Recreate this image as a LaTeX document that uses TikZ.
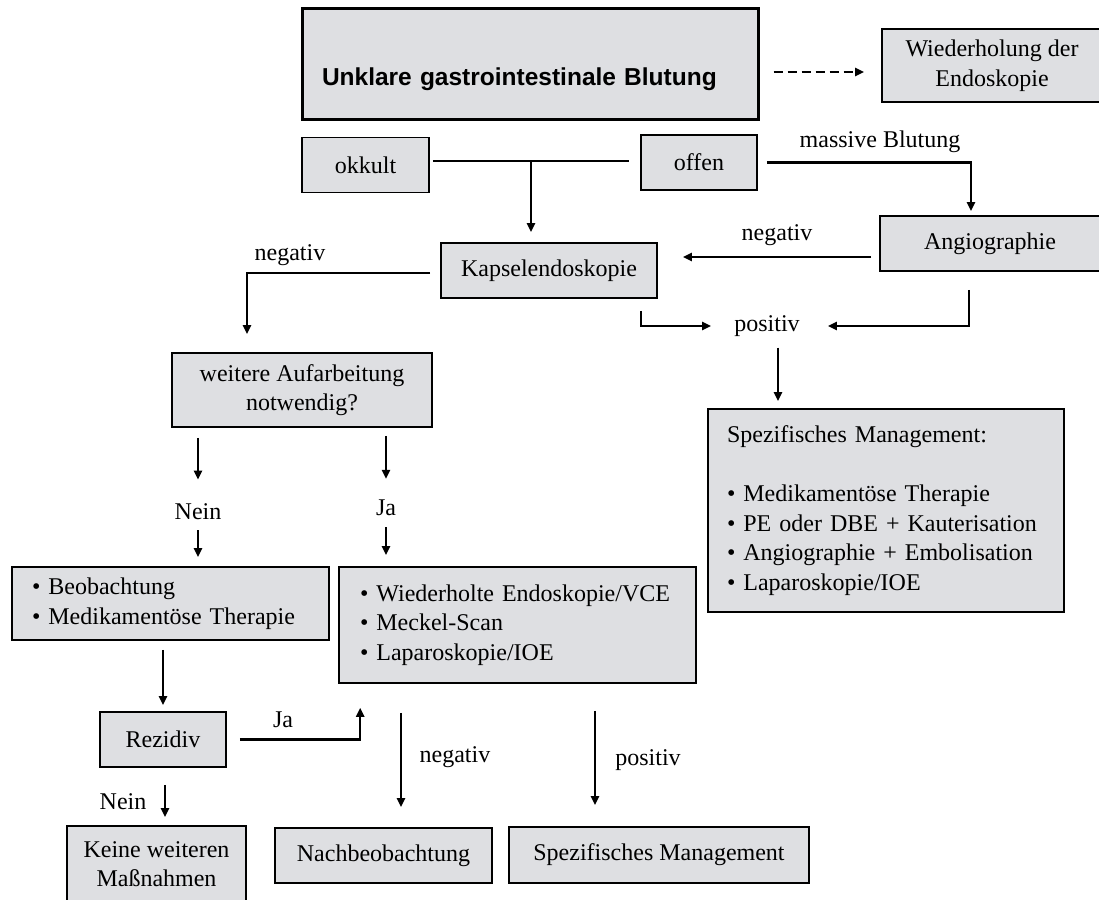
\documentclass[tikz,border=0pt]{standalone}
\usepackage{fontspec}
\setmainfont{Liberation Serif}
\newfontfamily\headfont{Liberation Sans}
\usetikzlibrary{arrows.meta, positioning, calc}
\definecolor{boxgray}{RGB}{222,223,226}

\begin{document}
\begin{tikzpicture}[
  x=1pt, y=-1pt,
  every node/.style={font=\fontsize{24}{29.5}\selectfont},
  box/.style={draw, fill=boxgray, line width=1.6pt, inner sep=0pt, align=center},
  lbl/.style={inner sep=0pt},
  arr/.style={-{Triangle[length=9pt, width=8pt]}, line width=2.5pt},
  ln/.style={line width=2.5pt},
]
  \useasboundingbox (0,0) rectangle (1099,899);

  \node[box, line width=3pt, minimum width=456pt, minimum height=110pt, text width=416pt, align=left,
        text height=48pt, text depth=5pt, font=\headfont\bfseries\fontsize{24.5}{29}\selectfont]
        (start) at (530,64) {Unklare gastrointestinale Blutung};
  \node[box, minimum width=220pt, minimum height=73pt] (repeat) at (992,65.5) {Wiederholung der\\Endoskopie};
  \node[box, minimum width=127pt, minimum height=55pt] (occult) at (365.5,165) {okkult};
  \node[box, minimum width=116pt, minimum height=55pt] (overt) at (699,162.5) {offen};
  \node[box, minimum width=216pt, minimum height=55pt] (capsule) at (549,270.5) {Kapselendoskopie};
  \node[box, minimum width=220pt, minimum height=55pt] (angio) at (990,243.5) {Angiographie};
  \node[box, minimum width=356pt, minimum height=203pt, text width=318pt, align=left] (manage) at (886,510.5)
       {Spezifisches Management:\\[29.5pt]
        \textbullet\ Medikamentöse Therapie\\
        \textbullet\ PE oder DBE + Kauterisation\\
        \textbullet\ Angiographie + Embolisation\\
        \textbullet\ Laparoskopie/IOE};
  \node[box, minimum width=260pt, minimum height=74pt] (further) at (302,390) {weitere Aufarbeitung\\notwendig?};
  \node[box, minimum width=317pt, minimum height=73pt, text width=277pt, align=left] (observe) at (170.5,603.5)
       {\textbullet\ Beobachtung\\\textbullet\ Medikamentöse Therapie};
  \node[box, minimum width=357pt, minimum height=116pt, text width=315pt, align=left] (workup) at (517.5,625)
       {\textbullet\ Wiederholte Endoskopie/VCE\\\textbullet\ Meckel-Scan\\\textbullet\ Laparoskopie/IOE};
  \node[box, minimum width=126pt, minimum height=55pt] (relapse) at (163,739.5) {Rezidiv};
  \node[box, minimum width=179pt, minimum height=76pt] (nomore) at (156.5,864) {Keine weiteren\\Maßnahmen};
  \node[box, minimum width=217pt, minimum height=55pt] (followup) at (383.5,855.5) {Nachbeobachtung};
  \node[box, minimum width=300pt, minimum height=56pt] (manage2) at (659,855) {Spezifisches Management};

  \node[lbl] (massive) at (880,142) {massive Blutung};
  \node[lbl] (neg1) at (290,255) {negativ};
  \node[lbl] (neg2) at (777,235) {negativ};
  \node[lbl] (pos) at (767,326) {positiv};
  \node[lbl] (no1) at (198,512) {Nein};
  \node[lbl] (yes1) at (386,508) {Ja};
  \node[lbl] (yes2) at (283,720) {Ja};
  \node[lbl] (no2) at (123,802) {Nein};
  \node[lbl] (neg3) at (455,757) {negativ};
  \node[lbl] (pos2) at (648,760) {positiv};

  \coordinate (split) at (531,161);

  \draw[arr, dash pattern=on 9pt off 5pt, shorten <=14pt, shorten >=17pt]
       ([yshift=-8pt]start.east) -- ([yshift=-8pt]start.east -| repeat.west);
  \draw[ln, shorten <=3pt, shorten >=11pt] (occult.east |- split) -- (overt.west |- split);
  \draw[arr, shorten >=10pt] (split) -- (split |- capsule.north);
  \draw[arr, shorten <=9pt, shorten >=4pt] (overt.east) -| ([xshift=-19pt]angio.north);
  \draw[arr, shorten <=8pt, shorten >=25pt] ([yshift=-13.5pt]angio.west) -- ([yshift=-13.5pt]angio.west -| capsule.east);
  \draw[arr, shorten <=10pt, shorten >=18pt] ([yshift=-2.5pt]capsule.west) -| ([xshift=-55pt]further.north);
  \draw[arr, shorten <=12pt, shorten >=23pt] ([xshift=92pt]capsule.south) |- (pos.west);
  \draw[arr, shorten <=18pt, shorten >=28pt] ([xshift=-21pt]angio.south) |- (pos.east);
  \draw[arr, shorten <=11pt, shorten >=7pt] ([xshift=11pt]pos.south) -- ([xshift=11pt]pos.south |- manage.north);

  \draw[arr, shorten <=10pt, shorten >=24pt] (further.south -| no1.north) -- (no1.north);
  \draw[arr, shorten <=8pt, shorten >=21pt] (further.south -| yes1.north) -- (yes1.north);
  \draw[arr, shorten <=10pt, shorten >=9pt] (no1.south) -- (no1.south |- observe.north);
  \draw[arr, shorten <=11pt, shorten >=11pt] (yes1.south) -- (yes1.south |- workup.north);
  \draw[arr, shorten <=9pt, shorten >=6pt] (observe.south -| relapse.north) -- (relapse.north);
  \draw[arr, shorten <=13pt, shorten >=24pt] (relapse.east) -| ([xshift=22pt]workup.south west);
  \draw[arr, shorten <=17pt, shorten >=8pt] ([xshift=2pt]relapse.south) -- ([xshift=2pt]relapse.south |- nomore.north);
  \draw[arr, shorten <=29pt, shorten >=20pt] ([xshift=-116.5pt]workup.south) -- ([xshift=-116.5pt]workup.south |- followup.north);
  \draw[arr, shorten <=27pt, shorten >=21pt] ([xshift=77.5pt]workup.south) -- ([xshift=77.5pt]workup.south |- manage2.north);
\end{tikzpicture}
\end{document}
